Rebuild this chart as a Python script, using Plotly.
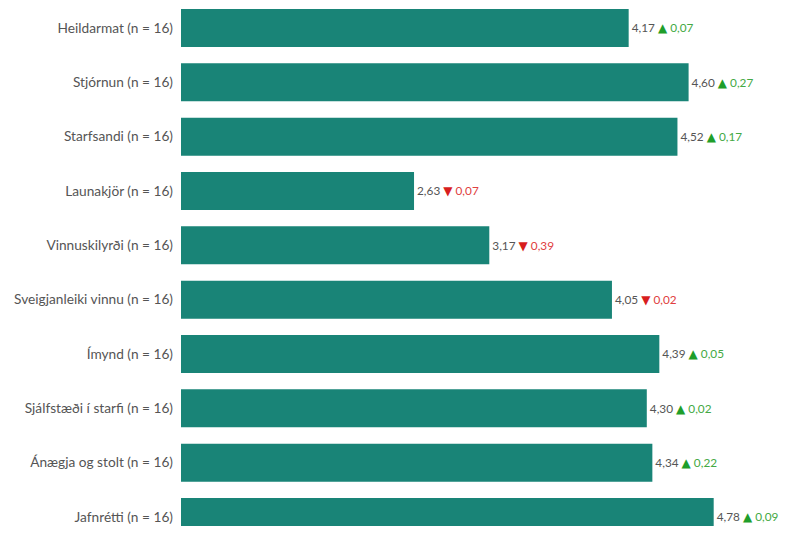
import plotly.graph_objects as go

categories = ["Heildarmat (n = 16)", "Stjórnun (n = 16)", "Starfsandi (n = 16)",
              "Launakjör (n = 16)", "Vinnuskilyrði (n = 16)", "Sveigjanleiki vinnu (n = 16)",
              "Ímynd (n = 16)", "Sjálfstæði í starfi (n = 16)", "Ánægja og stolt (n = 16)",
              "Jafnrétti (n = 16)"]
values = [4.17, 4.60, 4.52, 2.63, 3.17, 4.05, 4.39, 4.30, 4.34, 4.78]
changes = [0.07, 0.27, 0.17, -0.07, -0.39, -0.02, 0.05, 0.02, 0.22, 0.09]

def fmt(v):
    return f"{abs(v):.2f}".replace(".", ",")

texts = []
for v, c in zip(values, changes):
    if c >= 0:
        arrow = ('<span style="color:#1f9e2a;font-family:DejaVu Sans;font-size:12px">▲</span>'
                 ' <span style="color:#44a944">' + fmt(c) + '</span>')
    else:
        arrow = ('<span style="color:#d81e1e;font-family:DejaVu Sans;font-size:12px">▼</span>'
                 ' <span style="color:#e04040">' + fmt(c) + '</span>')
    texts.append(fmt(v) + " " + arrow)

fig = go.Figure(go.Bar(
    x=values, y=categories, orientation="h",
    marker=dict(color="#198477", line=dict(width=0)),
    width=0.70,
    text=texts, textposition="outside", cliponaxis=False, constraintext="none",
    textfont=dict(family="Lato", size=11.8, color="#555555"),
))

fig.update_layout(
    width=779, height=518,
    margin=dict(l=173, r=0, t=0, b=0, autoexpand=False),
    paper_bgcolor="white", plot_bgcolor="white",
    showlegend=False,
    font=dict(family="Lato", size=13.7, color="#555555"),
)
fig.update_xaxes(range=[0.958, 5.306], showgrid=False, zeroline=False,
                 showticklabels=False, ticks="")
fig.update_yaxes(range=[9.166, -0.368], showgrid=False, ticks="",
                 ticklabelstandoff=7, tickfont=dict(family="Lato", size=13.7, color="#555555"))

fig.write_html("out.html")
